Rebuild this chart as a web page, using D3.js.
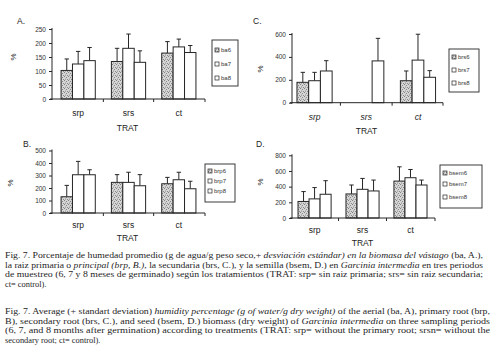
<!DOCTYPE html>
<html>
<head>
<meta charset="utf-8">
<script src="https://cdn.jsdelivr.net/npm/d3@7"></script>
<style>
  body { margin: 0; background: #fff; }
  svg { display: block; }
</style>
</head>
<body>
<script>
const groups = ["srp", "srs", "ct"];

// A. ba (vástago)
const ba6 = [102, 134, 164], ba6Sd = [41, 47, 41];
const ba7 = [125, 181, 186], ba7Sd = [45, 51, 28];
const ba8 = [137, 131, 166], ba8Sd = [47, 41, 25];
const baTicks = [0, 50, 100, 150, 200, 250];

// B. brp (raíz primaria)
const brp6 = [130, 245, 234], brp6Sd = [91, 62, 51];
const brp7 = [306, 245, 266], brp7Sd = [107, 81, 60];
const brp8 = [306, 218, 194], brp8Sd = [40, 89, 60];
const brpTicks = [0, 100, 200, 300, 400, 500];

// C. brs (raíz secundaria) - srs has no brs6 / brs7
const brs6 = [178, null, 192], brs6Sd = [87, null, 85];
const brs7 = [192, null, 372], brs7Sd = [73, null, 226];
const brs8 = [277, 365, 222], brs8Sd = [90, 197, 58];
const brsTicks = [0, 200, 400, 600];

// D. bsem (semilla)
const bsem6 = [211, 307, 471], bsem6Sd = [126, 114, 182];
const bsem7 = [244, 366, 514], bsem7Sd = [144, 139, 105];
const bsem8 = [303, 345, 421], bsem8Sd = [173, 139, 63];
const bsemTicks = [0, 200, 400, 600, 800];

const ink = "#262626";

const svg = d3.select("body").append("svg")
    .attr("width", 500)
    .attr("height", 363);

// stipple pattern for the first period
const pat = svg.append("defs").append("pattern")
    .attr("id", "stip")
    .attr("width", 4).attr("height", 4)
    .attr("patternUnits", "userSpaceOnUse");
pat.append("rect").attr("width", 4).attr("height", 4).attr("fill", "#d6d6d6");
[[0.5, 0.5], [2.5, 1.5], [1.5, 3], [3.5, 3.5]].forEach(function (p) {
    pat.append("circle").attr("cx", p[0]).attr("cy", p[1]).attr("r", 0.55).attr("fill", "#7a7a7a");
});

function series(names, vals, sds) {
    return names.map(function (n, i) { return { name: n, vals: vals[i], sds: sds[i] }; });
}

const panels = [
    { letter: "A.", lx: 17, ly: 24, x0: 52, x1: 205, y0: 99, y1: 29, max: 250, ticks: baTicks,
      pi: 0.32, po: 0.18, al: 0.5, italic: false, labY: 116, tratY: 131, pctX: 13, pctY: 57,
      leg: { x: 212, y: 40, w: 26, h: 46, ys: [50, 64, 78] },
      data: series(["ba6", "ba7", "ba8"], [ba6, ba7, ba8], [ba6Sd, ba7Sd, ba8Sd]) },
    { letter: "B.", lx: 23, ly: 147, x0: 52, x1: 205, y0: 213, y1: 150.5, max: 500, ticks: brpTicks,
      pi: 0.32, po: 0.18, al: 0.5, italic: false, labY: 228, tratY: 241, pctX: 10, pctY: 183,
      leg: { x: 205, y: 164, w: 30, h: 38, ys: [171, 181, 191] },
      data: series(["brp6", "brp7", "brp8"], [brp6, brp7, brp8], [brp6Sd, brp7Sd, brp8Sd]) },
    { letter: "C.", lx: 253, ly: 24, x0: 292, x1: 443, y0: 102.7, y1: 34, max: 600, ticks: brsTicks,
      pi: 0.32, po: 0.12, al: 0.4, italic: true, labY: 120, tratY: 134, pctX: 260, pctY: 69,
      leg: { x: 449, y: 49, w: 30, h: 43, ys: [57, 70, 83] },
      data: series(["brs6", "brs7", "brs8"], [brs6, brs7, brs8], [brs6Sd, brs7Sd, brs8Sd]) },
    { letter: "D.", lx: 256, ly: 147, x0: 292, x1: 435, y0: 218, y1: 155.3, max: 800, ticks: bsemTicks,
      pi: 0.31, po: 0.146, al: 0.43, italic: false, labY: 233, tratY: 246, pctX: 260, pctY: 182,
      leg: { x: 440, y: 165, w: 42, h: 43, ys: [173, 184, 197] },
      data: series(["bsem6", "bsem7", "bsem8"], [bsem6, bsem7, bsem8], [bsem6Sd, bsem7Sd, bsem8Sd]) }
];

panels.forEach(drawPanel);

function drawPanel(p) {
    const g = svg.append("g");

    const x = d3.scaleBand().domain(groups).range([p.x0, p.x1])
        .paddingInner(p.pi).paddingOuter(p.po).align(p.al);
    const xs = d3.scaleBand().domain(p.data.map(function (d) { return d.name; }))
        .range([0, x.bandwidth()]);
    const y = d3.scaleLinear().domain([0, p.max]).range([p.y0, p.y1]);

    // bars
    const rows = [];
    p.data.forEach(function (s, si) {
        groups.forEach(function (gr, gi) {
            if (s.vals[gi] == null) return;
            rows.push({ s: s.name, si: si, g: gr, v: s.vals[gi], sd: s.sds[gi] });
        });
    });

    // error bars (drawn first, bar sits over their base)
    const eb = g.selectAll(".err").data(rows).enter().append("g");
    eb.append("line")
        .attr("x1", function (d) { return x(d.g) + xs(d.s) + xs.bandwidth() / 2; })
        .attr("x2", function (d) { return x(d.g) + xs(d.s) + xs.bandwidth() / 2; })
        .attr("y1", function (d) { return y(d.v); })
        .attr("y2", function (d) { return y(d.v + d.sd); })
        .attr("stroke", ink).attr("stroke-width", 1);
    eb.append("line")
        .attr("x1", function (d) { return x(d.g) + xs(d.s) + xs.bandwidth() / 2 - 2.2; })
        .attr("x2", function (d) { return x(d.g) + xs(d.s) + xs.bandwidth() / 2 + 2.2; })
        .attr("y1", function (d) { return y(d.v + d.sd); })
        .attr("y2", function (d) { return y(d.v + d.sd); })
        .attr("stroke", ink).attr("stroke-width", 1);

    g.selectAll(".bar").data(rows).enter().append("rect")
        .attr("x", function (d) { return x(d.g) + xs(d.s); })
        .attr("y", function (d) { return y(d.v); })
        .attr("width", xs.bandwidth())
        .attr("height", function (d) { return y(0) - y(d.v); })
        .attr("fill", function (d) { return d.si === 0 ? "url(#stip)" : "#fff"; })
        .attr("stroke", ink).attr("stroke-width", 1);

    // y axis
    const ya = g.append("g")
        .attr("transform", "translate(" + p.x0 + ",0)")
        .call(d3.axisLeft(y).tickValues(p.ticks).tickSize(3).tickPadding(3));
    ya.select(".domain").attr("stroke", ink).attr("d", "M0," + (p.y0 + 1) + "V" + (p.y1 - 1));
    ya.selectAll(".tick line").attr("stroke", ink);
    ya.selectAll(".tick text")
        .attr("font-family", "Liberation Sans, Arial, sans-serif")
        .attr("font-size", 6.5).attr("fill", "#333");

    // x axis with separators between treatments
    g.append("line")
        .attr("x1", p.x0 - 2).attr("x2", p.x1)
        .attr("y1", y(0)).attr("y2", y(0))
        .attr("stroke", ink).attr("stroke-width", 1);
    const step = x.step();
    const seps = groups.slice(1).map(function (gr) { return x(gr) - (step - x.bandwidth()) / 2; });
    seps.push(p.x1);
    g.selectAll(".sep").data(seps).enter().append("line")
        .attr("x1", function (d) { return d; }).attr("x2", function (d) { return d; })
        .attr("y1", y(0)).attr("y2", y(0) + 3)
        .attr("stroke", ink).attr("stroke-width", 1);

    // group labels
    g.selectAll(".glab").data(groups).enter().append("text")
        .attr("x", function (d) { return x(d) + x.bandwidth() / 2; })
        .attr("y", p.labY)
        .attr("text-anchor", "middle")
        .attr("font-family", "Liberation Sans, Arial, sans-serif")
        .attr("font-size", 8.5)
        .attr("font-style", p.italic ? "italic" : "normal")
        .attr("fill", "#222")
        .text(function (d) { return d; });

    g.append("text")
        .attr("x", (p.x0 + p.x1) / 2 - 1).attr("y", p.tratY)
        .attr("text-anchor", "middle")
        .attr("font-family", "Liberation Sans, Arial, sans-serif")
        .attr("font-size", 8.5).attr("fill", "#222")
        .text("TRAT");

    g.append("text")
        .attr("transform", "translate(" + p.pctX + "," + p.pctY + ") rotate(-90)")
        .attr("text-anchor", "middle").attr("dy", "0.35em")
        .attr("font-family", "Liberation Sans, Arial, sans-serif")
        .attr("font-size", 8).attr("fill", "#222")
        .text("%");

    g.append("text")
        .attr("x", p.lx).attr("y", p.ly)
        .attr("font-family", "Liberation Sans, Arial, sans-serif")
        .attr("font-size", 8.5).attr("fill", "#222")
        .text(p.letter);

    // legend
    const L = p.leg;
    g.append("rect")
        .attr("x", L.x).attr("y", L.y).attr("width", L.w).attr("height", L.h)
        .attr("fill", "#fff").attr("stroke", ink).attr("stroke-width", 0.9);
    const li = g.selectAll(".leg").data(p.data).enter().append("g")
        .attr("transform", function (d, i) { return "translate(" + (L.x + 3) + "," + L.ys[i] + ")"; });
    li.append("rect")
        .attr("x", 0).attr("y", -2).attr("width", 4).attr("height", 4)
        .attr("fill", function (d, i) { return i === 0 ? "url(#stip)" : "#fff"; })
        .attr("stroke", ink).attr("stroke-width", 0.7);
    li.append("text")
        .attr("x", 6).attr("dy", "0.35em")
        .attr("font-family", "Liberation Sans, Arial, sans-serif")
        .attr("font-size", 6).attr("fill", "#333")
        .text(function (d) { return d.name; });
}

// captions
const capEs = [
    [["Fig. 7. Porcentaje de humedad promedio (g de agua/g peso seco,+ ", 0], ["desviación estándar) en la biomasa del vástago", 1], [" (ba, A.),", 0]],
    [["la raiz primaria o ", 0], ["principal (brp, B.)", 1], [", la secundaria (brs, C.), y la semilla (bsem, D.) en ", 0], ["Garcinia intermedia", 1], [" en tres periodos", 0]],
    [["de muestreo (6, 7 y 8 meses de germinado) según los tratamientos (TRAT: srp= sin raiz primaria; srs= sin raiz secundaria;", 0]],
    [["ct= control).", 0]]
];
const capEn = [
    [["Fig. 7. Average (+ standart deviation) ", 0], ["humidity percentage (g of water/g dry weight)", 1], [" of the aerial (ba, A), primary root (brp,", 0]],
    [["B), secondary root (brs, C.), and seed (bsem, D.) biomass (dry weight) of ", 0], ["Garcinia intermedia", 1], [" on three sampling periods", 0]],
    [["(6, 7, and 8 months after germination) according to treatments (TRAT: srp= without the primary root; srsn= without the", 0]],
    [["secondary root; ct= control).", 0]]
];

function caption(lines, top, right) {
    lines.forEach(function (parts, i) {
        const t = svg.append("text")
            .attr("x", 5).attr("y", top + i * 9.6)
            .attr("font-family", "Liberation Serif, Times New Roman, serif")
            .attr("font-size", 8.4).attr("fill", "#1e1e1e");
        if (i < lines.length - 1) {
            t.attr("textLength", right - 5).attr("lengthAdjust", "spacingAndGlyphs");
        }
        parts.forEach(function (pt) {
            t.append("tspan").attr("font-style", pt[1] ? "italic" : "normal").text(pt[0]);
        });
    });
}
caption(capEs, 258, 483);
caption(capEn, 314, 490);
</script>
</body>
</html>
